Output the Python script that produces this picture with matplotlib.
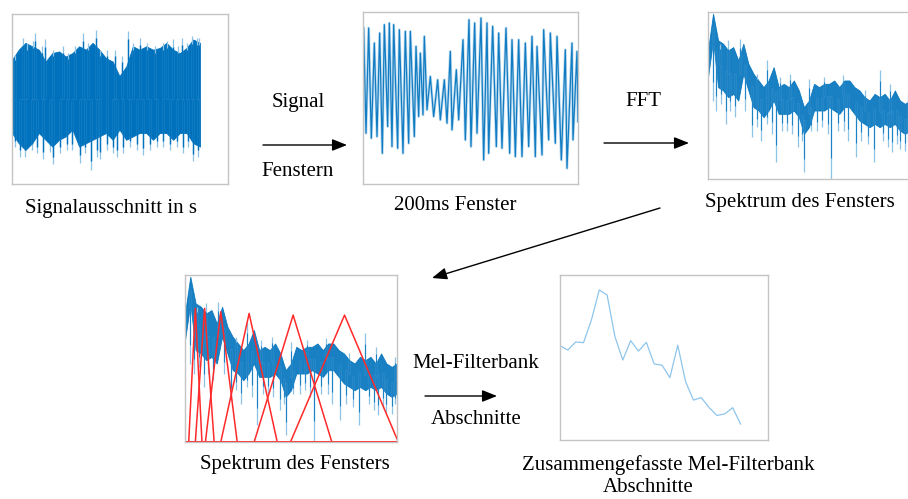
import numpy as np
import matplotlib
matplotlib.use("Agg")
import matplotlib.pyplot as plt

plt.rcParams['font.family'] = ['Liberation Serif', 'DejaVu Serif']

W, H = 908, 499
DARK = '#0072bd'
LIGHT = '#8ec3e6'

# ---------------------------------------------------------------- data
# Signalausschnitt: envelope of the dense signal (normalised -1..1)
sig_up = [0.46, 0.58, 0.66, 0.62, 0.58, 0.44, 0.54, 0.56, 0.50, 0.54, 0.62, 0.58,
          0.66, 0.58, 0.48, 0.44, 0.27, 0.38, 0.62, 0.58, 0.62, 0.58, 0.60, 0.66,
          0.58, 0.54, 0.60, 0.70, 0.66]
sig_lo = [-0.40, -0.52, -0.60, -0.52, -0.40, -0.48, -0.56, -0.48, -0.44, -0.36,
          -0.56, -0.52, -0.48, -0.44, -0.40, -0.48, -0.36, -0.48, -0.44, -0.40,
          -0.40, -0.48, -0.40, -0.40, -0.48, -0.40, -0.40, -0.52, -0.56]
# single peaks sticking out of the envelope
sig_spike_t = [0.016, 0.060, 0.078, 0.113, 0.122, 0.158, 0.176, 0.220, 0.273, 0.300,
               0.335, 0.379, 0.406, 0.447, 0.468, 0.504, 0.548, 0.583, 0.619, 0.645,
               0.681, 0.716, 0.761, 0.805, 0.823, 0.858, 0.885, 0.902, 0.929, 0.956,
               0.982, 0.996,
               0.016, 0.043, 0.069, 0.105, 0.131, 0.167, 0.202, 0.220, 0.255, 0.291,
               0.318, 0.362, 0.388, 0.418, 0.450, 0.468, 0.504, 0.539, 0.557, 0.592,
               0.628, 0.663, 0.699, 0.734, 0.770, 0.805, 0.840, 0.876, 0.911, 0.938,
               0.965, 0.991]
sig_spike_y = [0.52, 0.72, 0.66, 0.68, 0.78, 0.62, 0.70, 0.58, 0.62, 0.54,
               0.62, 0.78, 0.66, 0.81, 0.58, 0.58, 0.58, 0.50, 0.80, 0.66,
               0.72, 0.66, 0.62, 0.66, 0.68, 0.70, 0.62, 0.72, 0.66, 0.74,
               0.72, 0.72,
               -0.56, -0.68, -0.68, -0.60, -0.64, -0.71, -0.62, -0.77, -0.64, -0.60,
               -0.60, -0.75, -0.64, -0.83, -0.68, -0.71, -0.60, -0.64, -0.68, -0.64,
               -0.56, -0.60, -0.66, -0.60, -0.56, -0.56, -0.60, -0.56, -0.64, -0.56,
               -0.73, -0.68]

# 200ms Fenster: successive extremes of the windowed signal
win_x = [40, 47, 55, 63, 72, 80, 88, 96, 102, 112, 117, 125, 130, 142, 147, 158,
         165, 175, 180, 192, 197, 205, 210, 218, 222, 230, 240, 250, 262, 270, 282,
         290, 300, 305, 318, 325, 338, 345, 356, 362, 373, 380, 392, 400, 410, 415,
         427, 438, 445, 455, 467, 478, 485, 495, 505, 515, 525, 535, 545, 555, 560,
         575, 580, 595, 600, 615, 620, 633, 645, 650, 665, 668, 680, 683]
win_y = [85, 400, 85, 415, 130, 410, 100, 460, 75, 380, 70, 440, 75, 445, 90, 460,
         95, 430, 95, 410, 140, 350, 160, 345, 110, 330, 230, 350, 240, 360, 240,
         370, 155, 390, 210, 360, 120, 420, 60, 440, 70, 400, 55, 480, 70, 460,
         80, 440, 100, 445, 85, 460, 120, 470, 120, 470, 130, 440, 110, 470, 140,
         465, 90, 420, 100, 430, 110, 480, 150, 505, 130, 420, 155, 365]

# Spektrum des Fensters: envelope of the magnitude spectrum (0..1), 0..8 kHz
spec_f = np.linspace(0, 8000, 41)
spec_up = [0.77, 0.99, 0.83, 0.81, 0.77, 0.79, 0.71, 0.81, 0.69, 0.63, 0.59, 0.55,
           0.59, 0.67, 0.55, 0.57, 0.55, 0.59, 0.53, 0.43, 0.47, 0.57, 0.55, 0.57,
           0.57, 0.59, 0.55, 0.59, 0.59, 0.55, 0.53, 0.49, 0.47, 0.51, 0.49, 0.51,
           0.47, 0.53, 0.47, 0.45, 0.47]
spec_lo = [0.61, 0.83, 0.55, 0.53, 0.49, 0.51, 0.47, 0.63, 0.53, 0.43, 0.41, 0.37,
           0.41, 0.47, 0.39, 0.39, 0.39, 0.41, 0.37, 0.27, 0.31, 0.41, 0.41, 0.41,
           0.43, 0.41, 0.39, 0.43, 0.43, 0.39, 0.35, 0.33, 0.31, 0.33, 0.31, 0.33,
           0.31, 0.33, 0.29, 0.27, 0.29]
spec_spike_f = [700, 1740, 2100, 2700, 3580, 3820, 4860, 5860, 6580, 7300, 7600,
                200, 333, 533, 867, 1067, 1467, 1933, 2333, 2533, 2933, 3133, 3333,
                3733, 4067, 4333, 4533, 4733, 5133, 5400, 5533, 6067, 6333, 6933,
                7133, 7467, 7800, 7933,
                1260, 2340, 6800, 267, 467, 800, 1933, 2867, 3267, 4000, 4600, 5333,
                6200, 7200, 7933]
spec_spike_y = [0.33, 0.25, 0.23, 0.10, 0.19, 0.04, 0.00, 0.13, 0.10, 0.16, 0.18,
                0.47, 0.41, 0.45, 0.41, 0.37, 0.41, 0.31, 0.33, 0.27, 0.29, 0.29, 0.27,
                0.23, 0.29, 0.29, 0.31, 0.27, 0.29, 0.29, 0.23, 0.23, 0.21, 0.23,
                0.19, 0.21, 0.17, 0.23,
                0.84, 0.71, 0.65, 0.84, 0.81, 0.83, 0.63, 0.61, 0.63, 0.60, 0.61, 0.62,
                0.53, 0.57, 0.51]

# Mel-Filterbank: (start, centre, end) in Hz and peak height
mel_lo = [140, 390, 770, 1350, 2610, 3980]
mel_mid = [390, 740, 1350, 2420, 4080, 6020]
mel_hi = [640, 1100, 1970, 3480, 5540, 8050]
mel_h = [0.80, 0.80, 0.78, 0.77, 0.76, 0.76]

# Zusammengefasste Mel-Filterbank Abschnitte
mel_vals = [57.2, 54.5, 59.4, 59.0, 72.7, 90.9, 87.9, 62.6, 48.5, 60.2, 53.9, 59.2,
            46.1, 45.3, 37.8, 57.4, 35.4, 24.2, 25.7, 19.6, 14.9, 15.8, 19.6, 9.7]


# ---------------------------------------------------------------- helpers
def box(fig, x0, y0, x1, y1):
    """axes from pixel box (top-left origin)"""
    ax = fig.add_axes([x0 / W, 1 - y1 / H, (x1 - x0) / W, (y1 - y0) / H])
    ax.set_xticks([])
    ax.set_yticks([])
    for s in ax.spines.values():
        s.set_color('#c4c4c4')
        s.set_linewidth(1.0)
    return ax


def label(fig, x, y, s, **kw):
    fig.text(x / W, 1 - y / H, s, ha='center', va='center', fontsize=15, **kw)


def arrow(fig, x0, y0, x1, y1):
    fig.add_artist(matplotlib.patches.FancyArrowPatch(
        (x0 / W, 1 - y0 / H), (x1 / W, 1 - y1 / H), transform=fig.transFigure,
        arrowstyle='-|>,head_length=9,head_width=3.6', lw=1.0, color='black',
        shrinkA=0, shrinkB=0))


def spectrum(ax):
    mid = (np.array(spec_up) + np.array(spec_lo)) / 2
    base = np.interp(spec_spike_f, spec_f, mid)
    ax.vlines(spec_spike_f, base, spec_spike_y, color=LIGHT, lw=0.9)
    ax.fill_between(spec_f, spec_lo, spec_up, color=DARK, lw=0.6, alpha=0.9)
    ax.vlines(spec_spike_f, base, base + (np.array(spec_spike_y) - base) * 0.75,
              color=DARK, lw=0.8, alpha=0.8)
    ax.set_xlim(0, 8000)
    ax.set_ylim(0, 1)


fig = plt.figure(figsize=(W / 100, H / 100), dpi=100)

# Signalausschnitt
ax1 = box(fig, 12, 14, 228, 184)
t = np.linspace(0, 1, len(sig_up))
ax1.vlines(sig_spike_t, 0, sig_spike_y, color=LIGHT, lw=0.9)
ax1.fill_between(t, sig_lo, sig_up, color=DARK, lw=0.6)
ax1.vlines(sig_spike_t, 0, [v * 0.88 for v in sig_spike_y], color=DARK, lw=1.0)
ax1.set_xlim(0, 216 / 188)
ax1.set_ylim(-1, 1)

# 200ms Fenster
ax2 = box(fig, 363, 12, 578, 184)
ax2.plot(win_x, win_y, color=LIGHT, lw=2.0, alpha=0.6)
ax2.plot(win_x, win_y, color=DARK, lw=0.9, alpha=0.9)
ax2.set_xlim(38, 683)
ax2.set_ylim(552, 37)

# Spektrum des Fensters
ax3 = box(fig, 708, 12, 910, 179)
spectrum(ax3)

# Spektrum mit Mel-Filtern
ax4 = box(fig, 185, 275, 397, 442)
spectrum(ax4)
for a, b, c, h in zip(mel_lo, mel_mid, mel_hi, mel_h):
    ax4.plot([0, a, b, c, 8100], [0, 0, h, 0, 0], color='#ff2a2a', lw=1.1)

# Zusammengefasste Mel-Filterbank Abschnitte
ax5 = box(fig, 560, 275, 768, 440)
ax5.plot(np.arange(len(mel_vals)), mel_vals, color='#8ec5ec', lw=0.9)
ax5.set_xlim(0, 26.5)
ax5.set_ylim(0, 100)

# texts
label(fig, 111, 208, 'Signalausschnitt in s')
label(fig, 455, 206, '200ms Fenster')
label(fig, 800, 202, 'Spektrum des Fensters')
label(fig, 295, 465, 'Spektrum des Fensters')
label(fig, 668, 465, 'Zusammengefasste Mel-Filterbank')
label(fig, 648, 488, 'Abschnitte')
label(fig, 298, 102, 'Signal')
label(fig, 298, 172, 'Fenstern')
label(fig, 643, 102, 'FFT')
label(fig, 476, 363, 'Mel-Filterbank')
label(fig, 476, 420, 'Abschnitte')

arrow(fig, 263, 145, 347, 145)
arrow(fig, 604, 143, 689, 143)
arrow(fig, 425, 396, 497, 396)
arrow(fig, 660, 208, 432, 278)

fig.savefig('out.png', dpi=100)
